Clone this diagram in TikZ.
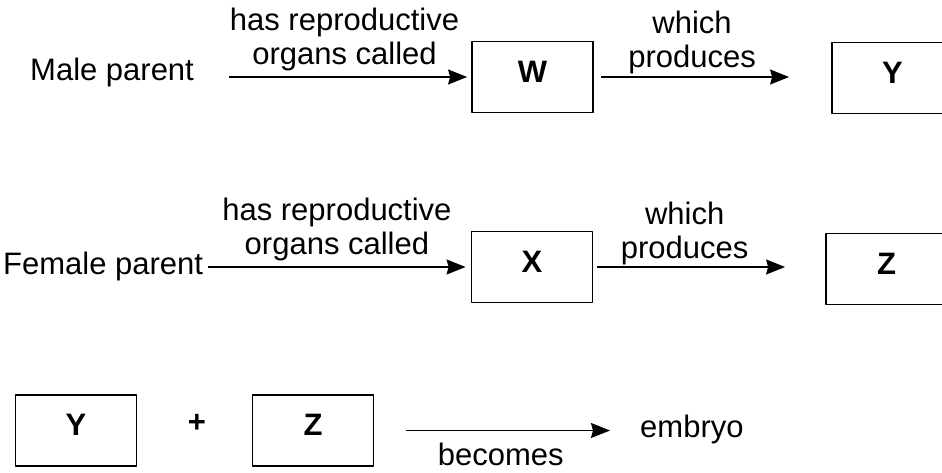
\documentclass[tikz,border=0pt]{standalone}
\usepackage{fontspec}
\setmainfont{Liberation Sans}
\usetikzlibrary{arrows.meta}

\begin{document}
\begin{tikzpicture}[x=1pt, y=-1pt, line join=bevel]
  % \bw and \bh are the width and height of every box,
  % \fs is the size of the text.
  \pgfmathsetmacro{\bw}{121}
  \pgfmathsetmacro{\bh}{71}
  \pgfmathsetmacro{\fs}{31}

  \tikzset{
    every node/.style={inner sep=0pt,font=\fontsize{\fs}{34}\selectfont},
    organ_box/.style={draw,line width=1.8pt,minimum width=\bw pt,
      minimum height=\bh pt,text height=22pt,text depth=12pt,
      font=\fontsize{\fs}{34}\selectfont\bfseries},
    link_arrow/.style={line width=1.3pt,
      -{Stealth[length=19pt,width=15pt,inset=2pt]}},
    link_label/.style={align=center},
  }

  \useasboundingbox (0,0) rectangle (942,472);

  % male row
  \node[anchor=base west] (male) at (30,80) {Male parent};
  \node[organ_box] (W) at (532.5,77) {W};
  \node[organ_box] (Yone) at (892.5,78) {Y};
  \draw[link_arrow,shorten <=35pt,shorten >=4pt]
    (male.east |- W.west) -- (W.west)
    node[link_label,pos=0.543,above=5pt] {has reproductive\\organs called};
  \draw[link_arrow,shorten <=7pt,shorten >=42pt]
    (W.east) -- (W.east -| Yone.west)
    node[link_label,pos=0.414,above=2.5pt] {which\\produces};

  % female row
  \node[anchor=base west] (female) at (3,274) {Female parent};
  \node[organ_box] (X) at (532,267) {X};
  \node[organ_box] (Zone) at (886.5,269) {Z};
  \draw[link_arrow,shorten <=5pt,shorten >=5pt]
    (female.east |- X.west) -- (X.west)
    node[link_label,midway,above=5pt] {has reproductive\\organs called};
  \draw[link_arrow,shorten <=4pt,shorten >=40pt]
    (X.east) -- (X.east -| Zone.west)
    node[link_label,pos=0.394,above=1pt] {which\\produces};

  % fusion row
  \node[organ_box] (Ytwo) at (76,430.5) {Y};
  \node[font=\fontsize{\fs}{34}\selectfont\bfseries] (plus) at (197,423) {+};
  \node[organ_box] (Ztwo) at (313,430.5) {Z};
  \node[anchor=base west] (embryo) at (640,437) {embryo};
  \draw[link_arrow,shorten <=32pt,shorten >=30pt]
    (Ztwo.east) -- (Ztwo.east -| embryo.west)
    node[link_label,pos=0.476,below=12pt] {becomes};
\end{tikzpicture}
\end{document}
